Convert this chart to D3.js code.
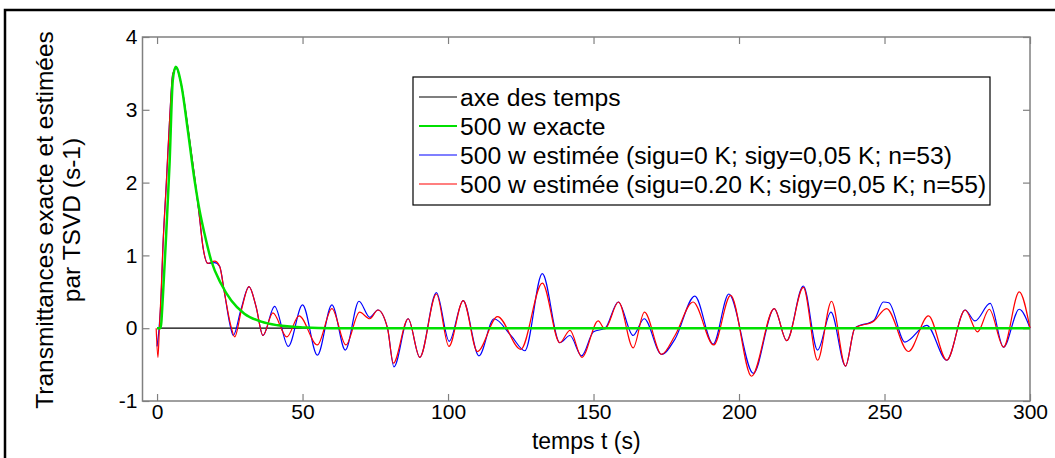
<!DOCTYPE html>
<html>
<head>
<meta charset="utf-8">
<script src="https://cdn.jsdelivr.net/npm/d3@7"></script>
<style>
  body { margin: 0; background: #fff; }
  svg { display: block; font-family: "Liberation Sans", Arial, sans-serif; }
  .tick text { fill: #000; }
</style>
</head>
<body>
<script>
// données : [t (s), transmittance (s-1)]
var xTicks = [0, 50, 100, 150, 200, 250, 300];
var yTicks = [-1, 0, 1, 2, 3, 4];

var axeTemps = [[0, 0], [300, 0]];

var exacte = [
  [0, 0], [1.2, 0], [2, 0.43], [3.2, 1.34], [4.3, 2.26], [5.4, 3.4], [6.4, 3.59],
  [8.3, 3.35], [10.6, 2.71], [12.9, 2.03], [14.6, 1.62], [16.3, 1.3], [18.6, 0.93],
  [22, 0.61], [25.5, 0.38], [30, 0.2], [35.8, 0.09], [41.5, 0.04], [50.7, 0.01],
  [60, 0], [300, 0]
];

var estimeeBleu = [
  [0, -0.25], [0.7, 0], [1.4, 0.43], [2, 1.1], [3.2, 2.0], [4.3, 2.85], [5.4, 3.49],
  [6.6, 3.57], [8.3, 3.35], [10.6, 2.76], [12.9, 2.08], [14.6, 1.52], [15.8, 1.11],
  [17.5, 0.89], [19.8, 0.9], [21.5, 0.85], [23.2, 0.48], [25, 0.06], [26.2, -0.1],
  [28.8, 0.25], [31.6, 0.57], [34, 0.3], [36.4, -0.1], [40.4, 0.3], [45.1, -0.25],
  [50, 0.32], [55.1, -0.37], [60.1, 0.32], [64.7, -0.3], [69.4, 0.37], [73.1, 0.15],
  [75.9, 0.25], [79.2, 0], [81.4, -0.53], [86.3, 0.13], [90.3, -0.4], [96, 0.49],
  [100.4, -0.18], [105.2, 0.38], [110.6, -0.38], [115.8, 0.13], [121.8, -0.11],
  [126.4, -0.31], [132.4, 0.75], [138.4, -0.2], [141.9, -0.1], [145.9, -0.38],
  [150, -0.05], [154, 0], [158.5, 0.36], [163.6, -0.1], [167.4, 0.13], [173.4, -0.36],
  [178, -0.15], [184.8, 0.44], [191.1, -0.22], [196.5, 0.47], [204.9, -0.62],
  [212.1, 0.27], [216.4, -0.17], [222.1, 0.58], [227, -0.3], [231.6, 0.22],
  [236.6, -0.52], [239.8, 0], [246.4, 0.11], [249.6, 0.36], [251.5, 0.35],
  [257, -0.19], [264.5, 0.04], [271.4, -0.44], [277.7, 0.25], [281.1, 0.1],
  [286.3, 0.34], [290.9, -0.26], [296.3, 0.26], [300, 0]
];

var estimeeRouge = [
  [-0.3, 0], [0.3, -0.4], [0.8, 0], [1.4, 0.5], [2, 1.1], [3.2, 2.0], [4.3, 2.85],
  [5.4, 3.49], [6.6, 3.58], [8.3, 3.35], [10.6, 2.76], [12.9, 2.08], [14.6, 1.52],
  [15.8, 1.11], [17.5, 0.89], [19.8, 0.92], [21.5, 0.85], [23.2, 0.48], [25.2, 0.06],
  [26.7, -0.12], [29, 0.25], [31.6, 0.57], [34, 0.3], [36.4, -0.1], [39.8, 0.21],
  [44.6, -0.12], [48.8, 0.17], [55.1, -0.23], [60.1, 0.27], [64.9, -0.23],
  [69.6, 0.22], [73.1, 0.13], [75.9, 0.25], [79.2, 0], [81.2, -0.48], [86.3, 0.13],
  [90.3, -0.4], [96, 0.47], [100.3, -0.25], [105.2, 0.38], [110.1, -0.32],
  [117, 0.16], [125, -0.29], [132.4, 0.62], [138.4, -0.2], [141.9, -0.03],
  [146, -0.4], [151.6, 0.1], [153.9, -0.01], [158.6, 0.36], [163.6, -0.27],
  [167.5, 0.22], [173.4, -0.36], [178, -0.1], [184.2, 0.36], [191.3, -0.23],
  [197.1, 0.45], [204.3, -0.66], [212.1, 0.27], [216.4, -0.17], [222.1, 0.56],
  [227, -0.44], [231.8, 0.37], [236.6, -0.52], [239.8, 0], [246.4, 0.1],
  [250.7, 0.27], [258.2, -0.32], [265.1, 0.17], [271.4, -0.44], [277.7, 0.25],
  [282, -0.05], [286, 0.26], [290.9, -0.26], [296.3, 0.5], [300, 0]
];

var legendLabels = [
  "axe des temps",
  "500 w exacte",
  "500 w estimée (sigu=0 K; sigy=0,05 K; n=53)",
  "500 w estimée (sigu=0.20 K; sigy=0,05 K; n=55)"
];
var legendColors = ["#000000", "#00e000", "#0000ff", "#ff0000"];

/////////////////////////////// dimensions
var W = 1055, H = 458;
var box = { left: 142.5, right: 1030, top: 37, bottom: 401 };

var svg = d3.select("body").append("svg").attr("width", W).attr("height", H);

// cadre extérieur (haut et gauche)
svg.append("path")
  .attr("d", "M5," + H + "V10H" + W)
  .attr("fill", "none")
  .attr("stroke", "#000")
  .attr("stroke-width", 2.5);

var x = d3.scaleLinear().domain([-5, 300]).range([box.left, box.right]);
var y = d3.scaleLinear().domain([-1, 4]).range([box.bottom, box.top]);

/////////////////////////////// axes (ticks vers l'intérieur, façon Matlab)
var fmt = (d) => String(d);

function styleAxis(g) {
  g.select(".domain").remove();
  g.selectAll(".tick line").attr("stroke", "#808080").attr("stroke-width", 1.2);
  g.selectAll(".tick text").attr("font-size", 21);
}

svg.append("g")
  .attr("transform", "translate(0," + box.bottom + ")")
  .call(d3.axisBottom(x).tickValues(xTicks).tickFormat(fmt)
    .tickSizeInner(-7).tickSizeOuter(0).tickPadding(3))
  .call(styleAxis);

svg.append("g")
  .attr("transform", "translate(0," + box.top + ")")
  .call(d3.axisTop(x).tickValues(xTicks).tickSizeInner(-7).tickSizeOuter(0).tickFormat(""))
  .call(styleAxis);

svg.append("g")
  .attr("transform", "translate(" + box.left + ",0)")
  .call(d3.axisLeft(y).tickValues(yTicks).tickFormat(fmt)
    .tickSizeInner(-7).tickSizeOuter(0).tickPadding(5))
  .call(styleAxis);

svg.append("g")
  .attr("transform", "translate(" + box.right + ",0)")
  .call(d3.axisRight(y).tickValues(yTicks).tickSizeInner(-7).tickSizeOuter(0).tickFormat(""))
  .call(styleAxis);

svg.append("rect")
  .attr("x", box.left).attr("y", box.top)
  .attr("width", box.right - box.left).attr("height", box.bottom - box.top)
  .attr("fill", "none")
  .attr("stroke", "#808080")
  .attr("stroke-width", 1.5);

/////////////////////////////// courbes
var line = d3.line()
  .x((d) => x(d[0]))
  .y((d) => y(d[1]))
  .curve(d3.curveMonotoneX);

var plot = svg.append("g");

plot.append("path").datum(axeTemps).attr("d", line)
  .attr("fill", "none").attr("stroke", legendColors[0]).attr("stroke-width", 1.2);
plot.append("path").datum(estimeeBleu).attr("d", line)
  .attr("fill", "none").attr("stroke", legendColors[2]).attr("stroke-width", 1.2);
plot.append("path").datum(estimeeRouge).attr("d", line)
  .attr("fill", "none").attr("stroke", legendColors[3]).attr("stroke-width", 1.2);
plot.append("path").datum(exacte).attr("d", line)
  .attr("fill", "none").attr("stroke", legendColors[1]).attr("stroke-width", 2.5);

/////////////////////////////// légende
var leg = svg.append("g").attr("transform", "translate(413,77)");
leg.append("rect")
  .attr("width", 577).attr("height", 128)
  .attr("fill", "#fff").attr("stroke", "#000").attr("stroke-width", 1.2);

var item = leg.selectAll(".item")
  .data(legendLabels)
  .enter()
  .append("g")
  .attr("class", "item")
  .attr("transform", (d, i) => "translate(0," + (20 + i * 29) + ")");

item.append("line")
  .attr("x1", 6).attr("x2", 44)
  .attr("stroke", (d, i) => legendColors[i])
  .attr("stroke-width", (d, i) => (i === 1 ? 2 : 1.2));

item.append("text")
  .attr("x", 47)
  .attr("dy", "0.35em")
  .attr("font-size", 24.7)
  .text((d) => d);

/////////////////////////////// titres des axes
svg.append("text")
  .attr("x", (box.left + box.right) / 2)
  .attr("y", 449)
  .attr("text-anchor", "middle")
  .attr("font-size", 23)
  .text("temps t (s)");

var ylab = svg.append("text")
  .attr("transform", "translate(53,220) rotate(-90)")
  .attr("text-anchor", "middle")
  .attr("font-size", 24.5);
ylab.append("tspan").attr("x", 0).attr("dy", 0).text("Transmittances exacte et estimées");
ylab.append("tspan").attr("x", 0).attr("dy", 27).text("par TSVD (s-1)");
</script>
</body>
</html>
